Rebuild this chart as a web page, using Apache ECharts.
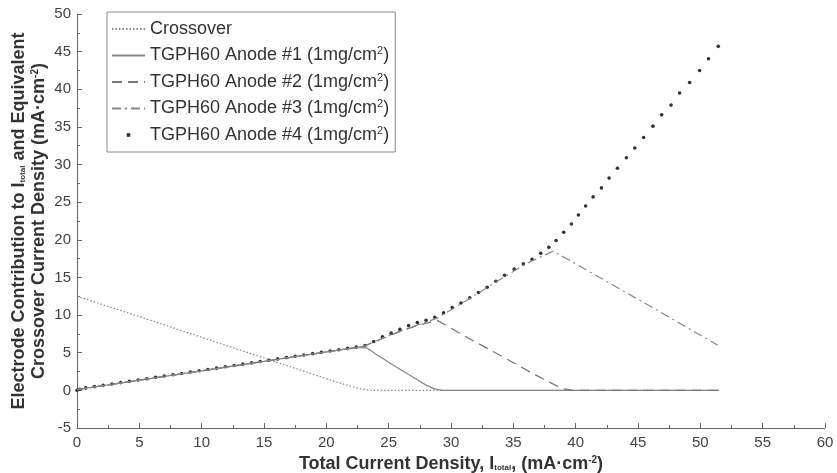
<!DOCTYPE html>
<html><head><meta charset="utf-8">
<script src="https://cdn.jsdelivr.net/npm/echarts@6/dist/echarts.min.js"></script>
<style>html,body{margin:0;padding:0;background:#fff}#c{width:837px;height:473px}</style>
</head><body><div id="c"></div>
<script>
// ---- data ----
const seriesNames = [
  'Crossover',
  'TGPH60 Anode #1 (1mg/cm2)',
  'TGPH60 Anode #2 (1mg/cm2)',
  'TGPH60 Anode #3 (1mg/cm2)',
  'TGPH60 Anode #4 (1mg/cm2)'
];
const xRange = [0, 60, 5];
const yRange = [-5, 50, 5];

const crossover = [[0,12.5],[5,9.8],[10,7.05],[15,4.3],[19,2.1],[21,1.0],[22.5,0.3],[23.5,0],[51.5,0]];
const anode1 = [[0,0.1],[5,1.35],[10,2.6],[15,3.85],[20,5.1],[22.5,5.7],[23.3,5.6],[24,4.8],[25.6,3.1],[26.9,1.8],[28,0.7],[28.7,0.2],[29.3,0],[51.5,0]];
const anode2 = [[0,0.1],[5,1.35],[10,2.6],[15,3.85],[20,5.1],[23,5.85],[24.5,6.9],[26,7.9],[27.5,8.7],[28.9,9.3],[31,7.3],[34,4.6],[36.5,2.3],[38,1.0],[39,0.2],[39.8,0],[51.5,0]];
const anode3 = [[0,0.1],[5,1.35],[10,2.6],[15,3.85],[20,5.1],[23,5.85],[24.5,6.9],[26,7.9],[27.5,8.8],[28.9,9.6],[31,11.7],[34,14.8],[36,16.8],[38.2,18.5],[45,12.1],[51.4,6.0]];
const anode4 = [
  [0,0],[0.2,0.15],[0.7,0.33],[1.4,0.5],[2.1,0.68],[2.8,0.85],[3.5,1.03],[4.2,1.2],[4.9,1.38],[5.6,1.55],
  [6.3,1.73],[7.0,1.9],[7.7,2.08],[8.4,2.25],[9.1,2.43],[9.8,2.6],[10.5,2.78],[11.2,2.95],[11.9,3.13],
  [12.6,3.3],[13.3,3.48],[14.0,3.65],[14.7,3.83],[15.4,4.0],[16.1,4.18],[16.8,4.35],[17.5,4.53],[18.2,4.7],
  [18.9,4.88],[19.6,5.05],[20.3,5.23],[21.0,5.4],[21.7,5.58],[22.4,5.75],[23.1,5.95],
  [23.8,6.5],[24.5,7.1],[25.2,7.6],[25.9,8.1],[26.6,8.6],[27.3,9.0],[28.0,9.3],[28.7,9.7],
  [29.4,10.3],[30.1,11.0],[30.8,11.6],[31.5,12.3],[32.2,13.0],[32.9,13.7],[33.6,14.5],[34.3,15.3],
  [35.07,16.1],[35.8,16.8],[36.5,17.4],[37.2,18.2],[37.85,19.0],
  [38.43,19.9],[39.04,21.0],[39.66,22.1],[40.22,23.3],[40.8,24.5],[41.4,25.7],[42.07,26.9],[42.68,28.2],
  [43.35,29.5],[44.07,30.9],[44.74,32.2],[45.45,33.6],[46.2,35.1],[46.9,36.6],[47.65,37.9],[48.34,39.5],
  [49.14,40.9],[49.94,42.5],[50.66,44.05],[51.44,45.7]
];

const FONT = '"Liberation Sans", Arial, sans-serif';
const chart = echarts.init(document.getElementById('c'), null, {renderer: 'canvas'});

const axisCommon = {
  axisLine: {show: true, onZero: false, lineStyle: {color: '#666', width: 1}},
  axisTick: {show: true, inside: true, length: 5, lineStyle: {color: '#666'}},
  minorTick: {show: true, splitNumber: 2, length: 3, lineStyle: {color: '#666'}},
  splitLine: {show: false},
  axisLabel: {color: '#444', fontSize: 15, fontFamily: FONT},
  nameMoveOverlap: false,
  nameTextStyle: {
    color: '#333', fontSize: 18, fontWeight: 'bold', fontFamily: FONT, lineHeight: 20,
    rich: {
      sub: {fontSize: 8, fontWeight: 'bold', color: '#333', fontFamily: FONT, lineHeight: 20, padding: [7, 0, 0, 0]},
      sup: {fontSize: 10, fontWeight: 'bold', color: '#333', fontFamily: FONT, lineHeight: 20, padding: [0, 0, 8, 0]}
    }
  }
};

const hidden = {color: 'rgba(0,0,0,0)', borderColor: 'rgba(0,0,0,0)', borderWidth: 0};

const option = {
  backgroundColor: '#fff',
  animation: false,
  grid: {left: 77, right: 12, top: 14, bottom: 45, containLabel: false, outerBoundsMode: 'none'},
  xAxis: Object.assign({}, axisCommon, {
    type: 'value', min: xRange[0], max: xRange[1], interval: xRange[2],
    name: 'Total Current Density, I{sub|total}, (mA·cm{sup|-2})',
    nameLocation: 'middle', nameGap: 26,
    axisLabel: Object.assign({}, axisCommon.axisLabel, {margin: 7})
  }),
  yAxis: Object.assign({}, axisCommon, {
    type: 'value', min: yRange[0], max: yRange[1], interval: yRange[2],
    name: 'Electrode Contribution to I{sub|total} and Equivalent\nCrossover Current Density (mA·cm{sup|-2})',
    nameLocation: 'middle', nameGap: 28, nameRotate: 90,
    axisLabel: Object.assign({}, axisCommon.axisLabel, {margin: 6})
  }),
  legend: {
    orient: 'vertical', left: 107, top: 12,
    padding: [8, 6, 8, 4],
    borderColor: '#888', borderWidth: 1,
    itemWidth: 33, itemHeight: 14, itemGap: 7.5,
    textStyle: {
      fontSize: 18, color: '#333', fontFamily: FONT, lineHeight: 18,
      rich: {sup: {fontSize: 11, color: '#333', fontFamily: FONT, padding: [0, 0, 9, 0]}}
    },
    formatter: n => n.replace('cm2)', 'cm{sup|2})'),
    data: [
      {name: seriesNames[0], itemStyle: hidden},
      {name: seriesNames[1], itemStyle: hidden},
      {name: seriesNames[2], itemStyle: hidden},
      {name: seriesNames[3], itemStyle: hidden},
      {name: seriesNames[4], icon: 'path://M0,0M33,14M14.7,5.2h3.6v3.6h-3.6z'}
    ]
  },
  series: [
    {name: seriesNames[0], type: 'line', data: crossover, symbol: 'none',
      lineStyle: {color: '#888', width: 1.2, type: [1.5, 2]}, itemStyle: {color: '#888'}},
    {name: seriesNames[1], type: 'line', data: anode1, symbol: 'none',
      lineStyle: {color: '#888', width: 1.3, type: 'solid'}, itemStyle: {color: '#888'}},
    {name: seriesNames[2], type: 'line', data: anode2, symbol: 'none',
      lineStyle: {color: '#777', width: 1.3, type: [10, 6]}, itemStyle: {color: '#777'}},
    {name: seriesNames[3], type: 'line', data: anode3, symbol: 'none',
      lineStyle: {color: '#888', width: 1.2, type: [9, 4, 2, 4]}, itemStyle: {color: '#888'}},
    {name: seriesNames[4], type: 'scatter', data: anode4, symbol: 'circle', symbolSize: 3.6,
      itemStyle: {color: '#333', opacity: 1}}
  ]
};
chart.setOption(option);
</script>
</body></html>
